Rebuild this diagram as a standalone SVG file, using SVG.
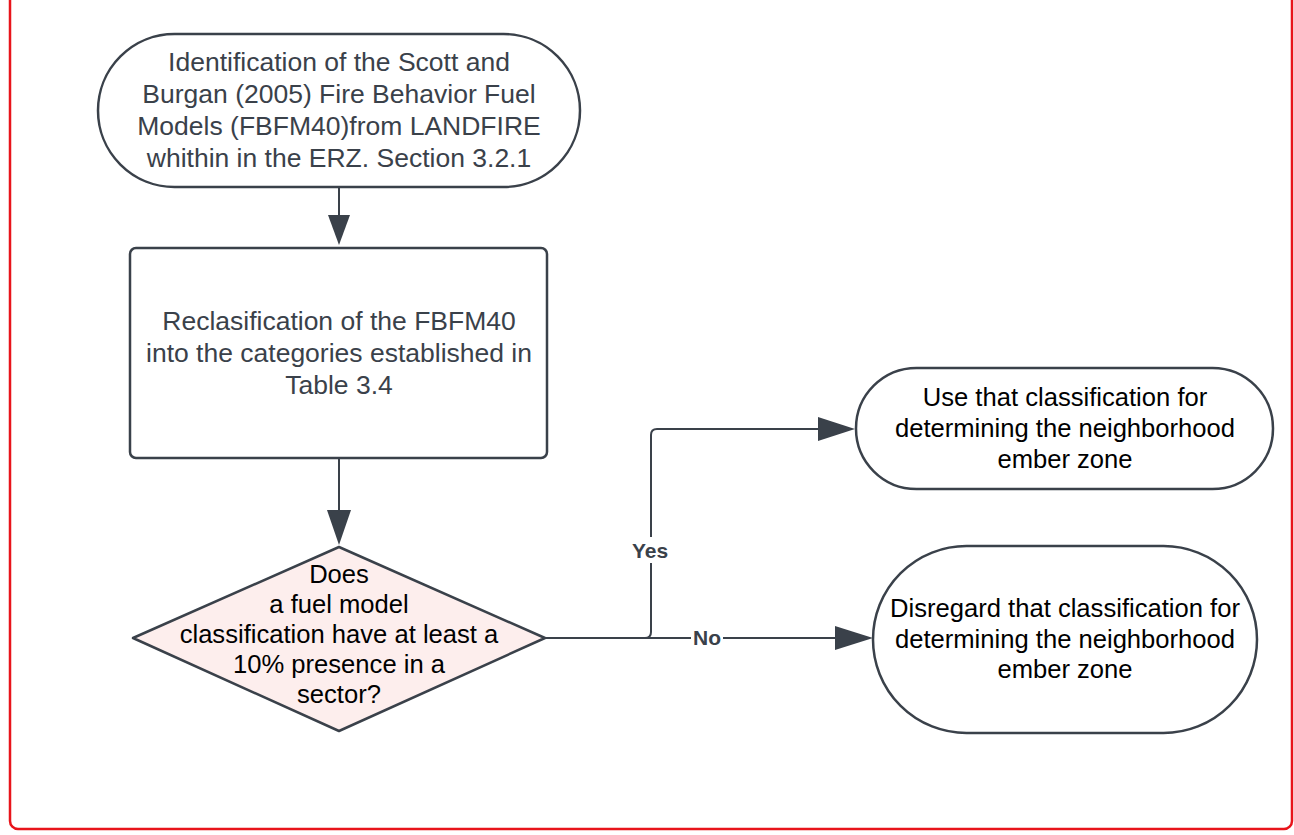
<svg xmlns="http://www.w3.org/2000/svg" width="1294" height="835" viewBox="0 0 1294 835">
<style>
.shape{fill:#ffffff;stroke:#3a414a;stroke-width:2.5}
.t{font-family:"Liberation Sans",Arial,sans-serif;text-anchor:middle}
.g{fill:#3a414a;font-size:26.5px}
.k{fill:#000000;font-size:25.6px}
.conn{fill:none;stroke:#3a414a;stroke-width:2}
.lbl{font-family:"Liberation Sans",Arial,sans-serif;font-size:21px;font-weight:bold;fill:#3a414a;text-anchor:middle}
</style>
<rect x="10" y="-10" width="1282" height="839" rx="8" fill="#ffffff" stroke="#e8141b" stroke-width="2.5"/>
<g id="connectors">
<line class="conn" x1="339" y1="187" x2="339" y2="215"/>
<path d="M328,215 L350,215 L339,245 Z" fill="#3a414a"/>
<line class="conn" x1="339" y1="458" x2="339" y2="510"/>
<path d="M327,510 L351,510 L339,545 Z" fill="#3a414a"/>
<path class="conn" d="M545,638 L645,638 Q651,638 651,632 L651,435 Q651,429 657,429 L818,429"/>
<path d="M818,417 L855,429 L818,441 Z" fill="#3a414a"/>
<path class="conn" d="M545,638 L835,638"/>
<path d="M835,626 L873,638 L835,650 Z" fill="#3a414a"/>
<rect x="628" y="537" width="46" height="26" fill="#ffffff"/>
<text class="lbl" x="650" y="558">Yes</text>
<rect x="691" y="626" width="32" height="24" fill="#ffffff"/>
<text class="lbl" x="707" y="645">No</text>
</g>
<g id="node-identification">
<rect class="shape" x="98" y="34" width="482" height="153" rx="76.5"/>
<text class="t g" x="339" y="71">Identification of the Scott and</text>
<text class="t g" x="339" y="103">Burgan (2005) Fire Behavior Fuel</text>
<text class="t g" x="339" y="135">Models (FBFM40)from LANDFIRE</text>
<text class="t g" x="339" y="167">whithin in the ERZ. Section 3.2.1</text>
</g>
<g id="node-reclassification">
<rect class="shape" x="130" y="248" width="417" height="210" rx="6"/>
<text class="t g" x="339" y="330">Reclasification of the FBFM40</text>
<text class="t g" x="339" y="362">into the categories established in</text>
<text class="t g" x="339" y="394">Table 3.4</text>
</g>
<g id="node-decision">
<path d="M339,547 L545,638 L339,731 L133,638 Z" fill="#fdeeed" stroke="#3a414a" stroke-width="2.5" stroke-linejoin="round"/>
<text class="t k" x="339" y="583">Does</text>
<text class="t k" x="339" y="613">a fuel model</text>
<text class="t k" x="339" y="643">classification have at least a</text>
<text class="t k" x="339" y="673">10% presence in a</text>
<text class="t k" x="339" y="703">sector?</text>
</g>
<g id="node-use">
<rect class="shape" x="856" y="368" width="417" height="121" rx="60.5"/>
<text class="t k" x="1065" y="406">Use that classification for</text>
<text class="t k" x="1065" y="437">determining the neighborhood</text>
<text class="t k" x="1065" y="468">ember zone</text>
</g>
<g id="node-disregard">
<rect class="shape" x="873" y="546" width="384" height="187" rx="93.5"/>
<text class="t k" x="1065" y="617">Disregard that classification for</text>
<text class="t k" x="1065" y="648">determining the neighborhood</text>
<text class="t k" x="1065" y="678">ember zone</text>
</g>
</svg>
